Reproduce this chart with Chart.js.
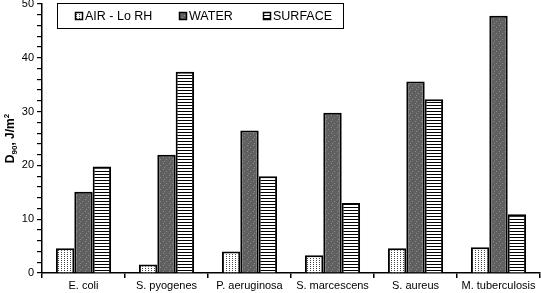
<!DOCTYPE html>
<html>
<head>
<meta charset="utf-8">
<script src="https://cdn.jsdelivr.net/npm/chart.js@4"></script>
<style>
  html, body { margin: 0; padding: 0; background: #fff; }
  #wrap { width: 541px; height: 293px; }
</style>
</head>
<body>
<div id="wrap"><canvas id="d90Chart" width="541" height="293"></canvas></div>
<script>
// --- Dữ liệu ---
const organisms = ['E. coli', 'S. pyogenes', 'P. aeruginosa', 'S. marcescens', 'S. aureus', 'M. tuberculosis'];
const seriesNames = ['AIR - Lo RH', 'WATER', 'SURFACE'];
const airValues = [4.6, 1.6, 4.0, 3.3, 4.6, 4.8];
const waterValues = [15.1, 22.0, 26.5, 29.8, 35.6, 47.8];
const surfaceValues = [19.8, 37.4, 18.0, 13.0, 32.3, 10.9];
const yMajorTicks = [0, 10, 20, 30, 40, 50];

const FONT = 'Liberation Sans, Arial, sans-serif';

// --- Tạo hoa văn (pattern) cho các cột ---
function makePattern(kind) {
    const c = document.createElement('canvas');
    const g = c.getContext('2d');
    if (kind === 'air') {
        c.width = 3; c.height = 2;
        g.fillStyle = '#fff'; g.fillRect(0, 0, 3, 2);
        g.fillStyle = '#444'; g.fillRect(1, 0, 1, 1);
    } else if (kind === 'water') {
        c.width = 6; c.height = 6;
        g.fillStyle = '#606060'; g.fillRect(0, 0, 6, 6);
        g.fillStyle = '#8a8a8a';
        g.fillRect(1, 1, 1, 1);
        g.fillRect(4, 3, 1, 1);
        g.fillRect(2, 5, 1, 1);
    } else {
        c.width = 1; c.height = 3;
        g.fillStyle = '#fff'; g.fillRect(0, 0, 1, 3);
        g.fillStyle = '#000'; g.fillRect(0, 0, 1, 1);
    }
    return g.createPattern(c, 'repeat');
}

const fills = [makePattern('air'), makePattern('water'), makePattern('surface')];

// --- Chú thích tự vẽ trong khung ---
const boxedLegend = {
    id: 'boxedLegend',
    afterDraw(chart) {
        const ctx = chart.ctx;
        const itemX = [75, 179, 263];
        ctx.save();
        ctx.fillStyle = '#fff';
        ctx.fillRect(57, 3, 286, 25);
        ctx.strokeStyle = '#000';
        ctx.lineWidth = 1;
        ctx.strokeRect(57.5, 3.5, 286, 25);
        ctx.font = '12.5px ' + FONT;
        ctx.textBaseline = 'middle';
        chart.data.datasets.forEach((ds, i) => {
            const x = itemX[i];
            ctx.fillStyle = ds.backgroundColor;
            ctx.fillRect(x, 12, 8, 8);
            ctx.strokeStyle = '#000';
            ctx.lineWidth = 1.5;
            ctx.strokeRect(x + 0.5, 12.5, 7, 7);
            ctx.fillStyle = '#000';
            ctx.fillText(ds.label, x + 10, 16.5);
        });
        ctx.restore();
    }
};

// --- Tiêu đề trục Y có chỉ số dưới / trên ---
const yTitle = {
    id: 'yTitle',
    afterDraw(chart) {
        const ctx = chart.ctx;
        const area = chart.chartArea;
        const parts = [
            { t: 'D', size: 12, dy: 0 },
            { t: '90', size: 8, dy: 3 },
            { t: ', J/m', size: 12, dy: 0 },
            { t: '2', size: 8, dy: -5 }
        ];
        ctx.save();
        let total = 0;
        parts.forEach(p => {
            ctx.font = 'bold ' + p.size + 'px ' + FONT;
            p.w = ctx.measureText(p.t).width;
            total += p.w;
        });
        ctx.translate(10, (area.top + area.bottom) / 2);
        ctx.rotate(-Math.PI / 2);
        ctx.fillStyle = '#000';
        ctx.textBaseline = 'alphabetic';
        let x = -total / 2;
        parts.forEach(p => {
            ctx.font = 'bold ' + p.size + 'px ' + FONT;
            ctx.fillText(p.t, x, 4 + p.dy);
            x += p.w;
        });
        ctx.restore();
    }
};

const values = [airValues, waterValues, surfaceValues];

new Chart(document.getElementById('d90Chart'), {
    type: 'bar',
    data: {
        labels: organisms,
        datasets: seriesNames.map((name, i) => ({
            label: name,
            data: values[i],
            backgroundColor: fills[i],
            borderColor: '#000',
            borderWidth: 2,
            borderSkipped: 'bottom',
            categoryPercentage: 0.665,
            barPercentage: 1.0
        }))
    },
    options: {
        responsive: false,
        animation: false,
        devicePixelRatio: 1,
        layout: { padding: { top: 4, right: 1, left: 0, bottom: 0 } },
        plugins: {
            legend: { display: false },
            tooltip: { enabled: false }
        },
        scales: {
            x: {
                grid: {
                    offset: true,
                    drawOnChartArea: false,
                    color: '#000',
                    tickLength: 5,
                    lineWidth: 1.5
                },
                border: { color: '#000', width: 1.5 },
                ticks: { color: '#000', font: { family: FONT, size: 11 }, padding: 1, maxRotation: 0 },
                afterFit(scale) { scale.height = 20; }
            },
            y: {
                min: 0,
                max: 50,
                grid: {
                    drawOnChartArea: false,
                    color: '#000',
                    tickLength: 5,
                    lineWidth: 1.2
                },
                border: { color: '#000', width: 1.5 },
                ticks: {
                    stepSize: 2,
                    autoSkip: false,
                    color: '#000',
                    font: { family: FONT, size: 11 },
                    padding: 3,
                    callback: (v) => yMajorTicks.includes(v) ? v : ''
                },
                title: { display: false },
                afterFit(scale) {
                    scale.width = 42;
                    scale.paddingTop = 0;
                    scale.paddingBottom = 0;
                }
            }
        }
    },
    plugins: [boxedLegend, yTitle]
});
</script>
</body>
</html>
